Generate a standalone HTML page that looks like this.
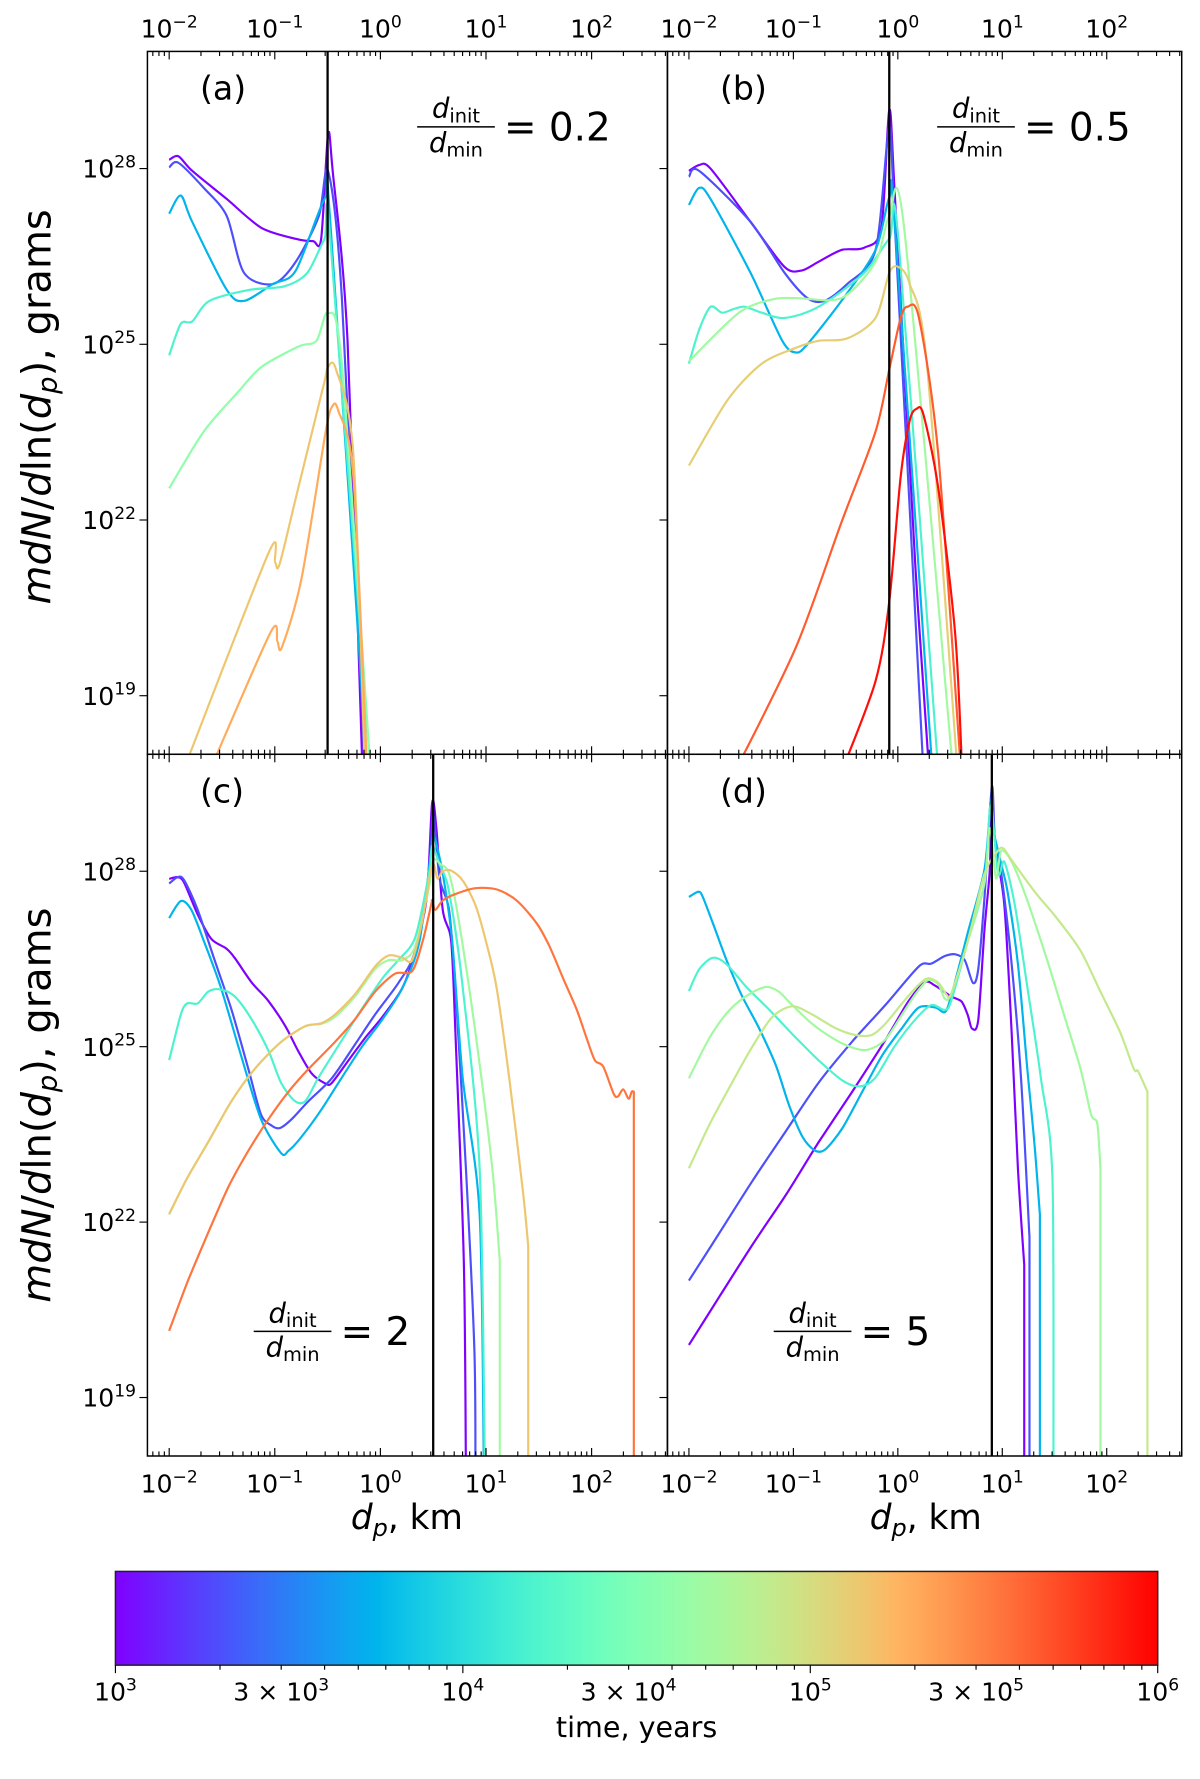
<!DOCTYPE html>
<html><head><meta charset="utf-8">
<style>
html,body{margin:0;padding:0;background:#fff;}
svg{display:block;font-family:"DejaVu Sans","Liberation Sans",sans-serif;}
</style></head>
<body>
<svg id="fig" xmlns="http://www.w3.org/2000/svg" width="1200" height="1779" viewBox="0 0 1050 1556.625">
<rect x="0" y="0" width="1050" height="1556.625" fill="#fff"/>
<g id="layer"></g>
</svg>
<script>
// ---- data (log10 d in km, log10 mdN/dln d in grams), times in log10 years ----
const panelATimes = [3.0, 3.3, 3.75, 4.2, 4.6, 5.15, 5.3];
const panelA_s1 = [[-2,28.15],[-1.913,28.21],[-1.782,27.96],[-1.455,27.48],[-1.128,26.99],[-0.801,26.80],[-0.638,26.76],[-0.561,26.80],[-0.496,28.58],[-0.452,27.96],[-0.311,25.06],[-0.169,17.7]];
const panelA_s2 = [[-2,28.02],[-1.913,28.10],[-1.673,27.67],[-1.455,27.19],[-1.292,26.22],[-1.019,26.03],[-0.801,26.41],[-0.583,27.19],[-0.496,27.96],[-0.365,25.8],[-0.147,17.7]];
const panelA_s3 = [[-2,27.23],[-1.89,27.54],[-1.782,27.09],[-1.455,25.93],[-1.292,25.74],[-1.019,26.03],[-0.801,26.26],[-0.529,27.48],[-0.474,27.09],[-0.125,17.7]];
const panelA_s4 = [[-2,24.81],[-1.89,25.35],[-1.782,25.39],[-1.619,25.74],[-1.237,25.93],[-0.910,25.99],[-0.692,26.22],[-0.529,26.80],[-0.474,26.80],[-0.093,17.7]];
const panelA_s5 = [[-2,22.54],[-1.673,23.51],[-1.346,24.19],[-1.128,24.61],[-0.779,24.96],[-0.605,25.06],[-0.496,25.54],[-0.365,24.67],[-0.093,17.7]];
const panelA_s6 = [[-1.87,17.7],[-1.063,21.42],[-0.997,21.28],[-0.954,21.25],[-0.779,22.54],[-0.540,24.28],[-0.496,24.61],[-0.420,24.57],[-0.256,23.12],[-0.147,17.7]];
const panelA_s7 = [[-1.62,17.7],[-1.041,20.08],[-0.976,19.93],[-0.932,19.83],[-0.747,21.0],[-0.518,23.51],[-0.452,23.95],[-0.398,23.86],[-0.256,22.74],[-0.125,17.7]];

const panelBTimes = [3.0, 3.3, 3.75, 4.2, 4.7, 5.1, 5.65, 5.95];
const panelB_s1 = [[-2,27.96],[-1.902,28.06],[-1.793,28.0],[-1.411,27.09],[-1.084,26.32],[-0.921,26.26],[-0.758,26.41],[-0.540,26.61],[-0.322,26.65],[-0.158,26.99],[-0.082,29.0],[-0.027,27.5],[0.169,21.19],[0.300,17.7]];
const panelB_s2 = [[-2,27.86],[-1.902,27.96],[-1.411,27.09],[-1.084,26.22],[-0.867,25.79],[-0.703,25.74],[-0.485,26.03],[-0.213,26.61],[-0.082,28.7],[-0.027,27.0],[0.245,17.7]];
const panelB_s3 = [[-2,27.38],[-1.902,27.67],[-1.793,27.48],[-1.411,26.22],[-1.106,25.06],[-0.975,24.86],[-0.867,25.0],[-0.540,25.74],[-0.213,26.61],[-0.082,27.5],[-0.027,27.0],[0.332,17.7]];
const panelB_s4 = [[-2,24.67],[-1.902,25.25],[-1.793,25.64],[-1.684,25.54],[-1.575,25.60],[-1.466,25.64],[-1.302,25.54],[-1.084,25.45],[-0.758,25.64],[-0.322,26.22],[-0.082,26.8],[0.005,26.8],[0.387,17.7]];
const panelB_s5 = [[-2,24.71],[-1.520,25.54],[-1.193,25.77],[-0.975,25.79],[-0.540,25.79],[-0.213,26.41],[-0.082,27.19],[0.060,26.99],[0.529,17.7]];
const panelB_s6 = [[-2,22.93],[-1.629,24.05],[-1.302,24.67],[-0.975,24.94],[-0.758,25.06],[-0.485,25.10],[-0.213,25.45],[-0.082,26.22],[0.005,26.32],[0.114,26.03],[0.278,24.67],[0.572,17.7]];
const panelB_s7 = [[-1.56,17.7],[-0.975,19.83],[-0.540,21.96],[-0.213,23.51],[-0.082,24.57],[0.027,25.45],[0.093,25.64],[0.202,25.45],[0.387,23.12],[0.605,17.7]];
const panelB_s8 = [[-0.54,17.7],[-0.213,19.25],[-0.082,20.61],[0.027,22.74],[0.114,23.70],[0.180,23.90],[0.245,23.80],[0.387,22.54],[0.550,20.03],[0.616,17.7]];

const panelCTimes = [3.0, 3.3, 3.75, 4.2, 4.7, 5.15, 5.55];
const panelC_s1 = [[-2,27.87],[-1.92,27.90],[-1.86,27.81],[-1.73,27.26],[-1.60,26.84],[-1.46,26.68],[-1.38,26.52],[-1.22,26.10],[-1.06,25.78],[-0.90,25.35],[-0.78,24.93],[-0.65,24.54],[-0.52,24.37],[-0.46,24.38],[-0.30,24.77],[-0.14,25.16],[0.02,25.51],[0.21,26.01],[0.33,26.64],[0.44,27.57],[0.49,29.17],[0.53,28.74],[0.59,27.34],[0.67,26.80],[0.71,25.24],[0.79,21.35],[0.81,17.7]];
const panelC_s2 = [[-2,27.79],[-1.92,27.90],[-1.86,27.85],[-1.73,27.34],[-1.57,26.48],[-1.41,25.63],[-1.25,24.62],[-1.13,23.84],[-1.03,23.65],[-0.95,23.61],[-0.84,23.76],[-0.68,24.07],[-0.46,24.46],[-0.24,25.04],[-0.05,25.55],[0.17,26.09],[0.33,26.64],[0.46,27.96],[0.50,28.97],[0.56,27.88],[0.65,27.34],[0.71,26.01],[0.81,22.91],[0.89,19.80],[0.90,17.7]];
const panelC_s3 = [[-2,27.20],[-1.89,27.49],[-1.79,27.34],[-1.67,26.80],[-1.51,26.01],[-1.32,24.85],[-1.13,23.76],[-0.94,23.18],[-0.87,23.22],[-0.75,23.45],[-0.56,23.92],[-0.37,24.46],[-0.17,25.01],[0.02,25.47],[0.21,26.01],[0.37,26.80],[0.48,28.35],[0.51,28.58],[0.59,27.96],[0.68,26.80],[0.78,24.46],[0.94,22.13],[0.98,17.7]];
const panelC_s4 = [[-2,24.77],[-1.89,25.55],[-1.83,25.74],[-1.73,25.74],[-1.63,25.94],[-1.52,25.98],[-1.38,25.86],[-1.22,25.47],[-1.06,24.93],[-0.94,24.38],[-0.81,24.07],[-0.71,24.07],[-0.59,24.46],[-0.40,25.01],[-0.21,25.55],[0.02,26.17],[0.17,26.48],[0.33,26.87],[0.46,27.96],[0.49,28.43],[0.56,28.12],[0.65,27.65],[0.78,26.01],[0.94,22.91],[0.99,17.7]];
const panelC_s5 = [[-2,22.13],[-1.83,22.75],[-1.63,23.37],[-1.41,24.07],[-1.19,24.62],[-0.94,25.08],[-0.71,25.35],[-0.56,25.39],[-0.43,25.51],[-0.24,25.86],[-0.05,26.33],[0.08,26.48],[0.21,26.48],[0.33,26.72],[0.46,27.73],[0.50,28.19],[0.57,28.12],[0.65,27.96],[0.74,27.18],[0.90,25.24],[1.06,22.91],[1.13,21.35],[1.13,17.7]];
const panelC_s6 = [[-2,22.14],[-1.83,22.75],[-1.63,23.37],[-1.41,24.07],[-1.19,24.62],[-0.94,25.08],[-0.71,25.35],[-0.56,25.40],[-0.43,25.55],[-0.24,25.90],[-0.05,26.37],[0.08,26.56],[0.21,26.52],[0.30,26.48],[0.40,27.18],[0.49,28.12],[0.54,27.88],[0.59,28.0],[0.67,28.01],[0.78,27.84],[0.90,27.42],[1.0,26.80],[1.10,26.01],[1.22,24.46],[1.35,22.52],[1.40,21.58],[1.40,17.7]];
const panelC_s7 = [[-2,20.14],[-1.83,20.96],[-1.63,21.82],[-1.44,22.60],[-1.25,23.22],[-1.06,23.76],[-0.87,24.23],[-0.68,24.62],[-0.43,25.08],[-0.24,25.47],[-0.05,25.94],[0.14,26.25],[0.30,26.29],[0.40,26.80],[0.48,27.42],[0.49,27.50],[0.52,27.34],[0.59,27.50],[0.71,27.61],[0.90,27.71],[1.10,27.69],[1.29,27.50],[1.48,27.11],[1.60,26.72],[1.73,26.17],[1.86,25.63],[1.95,25.16],[2.03,24.77],[2.11,24.66],[2.21,24.19],[2.25,24.15],[2.30,24.27],[2.35,24.11],[2.38,24.23],[2.40,24.23],[2.40,17.7]];

const panelDTimes = [3.0, 3.3, 3.75, 4.2, 4.7, 4.9];
const panelD_s1 = [[-2,19.90],[-1.71,20.72],[-1.39,21.62],[-1.07,22.47],[-0.76,23.36],[-0.44,24.22],[-0.12,25.11],[0.10,25.77],[0.26,26.10],[0.36,26.04],[0.51,25.86],[0.61,25.77],[0.67,25.54],[0.71,25.31],[0.77,25.46],[0.83,27.02],[0.88,28.0],[0.90,29.13],[0.94,28.35],[1.02,27.42],[1.09,25.24],[1.15,22.91],[1.21,21.27],[1.21,17.7]];
const panelD_s2 = [[-2,21.0],[-1.71,21.81],[-1.39,22.71],[-1.07,23.56],[-0.76,24.38],[-0.44,25.08],[-0.12,25.71],[0.20,26.37],[0.32,26.42],[0.45,26.55],[0.55,26.58],[0.64,26.48],[0.72,26.09],[0.77,26.33],[0.83,27.57],[0.90,29.44],[0.93,28.51],[0.99,27.96],[1.09,26.41],[1.18,24.46],[1.26,21.74],[1.26,17.7]];
const panelD_s3 = [[-2,27.56],[-1.91,27.65],[-1.87,27.57],[-1.77,27.11],[-1.64,26.48],[-1.49,25.86],[-1.33,25.32],[-1.17,24.69],[-1.04,23.99],[-0.91,23.45],[-0.79,23.22],[-0.69,23.25],[-0.53,23.61],[-0.34,24.23],[-0.15,24.85],[0.04,25.32],[0.20,25.67],[0.36,25.67],[0.45,25.59],[0.51,25.86],[0.67,26.95],[0.83,28.04],[0.89,29.21],[0.91,28.74],[0.99,28.12],[1.05,27.65],[1.15,26.41],[1.24,24.62],[1.31,23.30],[1.36,22.13],[1.36,17.7]];
const panelD_s4 = [[-2,25.95],[-1.90,26.33],[-1.77,26.52],[-1.64,26.41],[-1.45,26.02],[-1.23,25.63],[-0.98,25.16],[-0.76,24.77],[-0.53,24.42],[-0.37,24.32],[-0.22,24.46],[-0.03,25.01],[0.17,25.47],[0.32,25.71],[0.45,25.63],[0.51,25.78],[0.67,26.80],[0.83,27.81],[0.89,29.13],[0.96,27.96],[1.02,28.16],[1.12,27.42],[1.24,26.02],[1.37,24.46],[1.48,22.75],[1.49,17.7]];
const panelD_s5 = [[-2,24.46],[-1.80,25.16],[-1.61,25.63],[-1.42,25.90],[-1.26,26.02],[-1.14,25.94],[-1.01,25.71],[-0.82,25.39],[-0.60,25.12],[-0.41,24.97],[-0.28,24.95],[-0.12,25.12],[0.04,25.55],[0.17,25.90],[0.29,26.14],[0.39,26.06],[0.45,25.82],[0.51,25.90],[0.67,26.80],[0.83,27.81],[0.88,28.74],[0.94,27.88],[0.99,28.35],[1.09,28.16],[1.24,27.50],[1.43,26.48],[1.59,25.55],[1.75,24.62],[1.85,23.84],[1.91,23.68],[1.94,22.91],[1.94,17.7]];
const panelD_s6 = [[-2,22.92],[-1.80,23.68],[-1.61,24.31],[-1.39,25.01],[-1.20,25.51],[-1.01,25.69],[-0.82,25.55],[-0.60,25.32],[-0.41,25.20],[-0.25,25.20],[-0.12,25.39],[0.04,25.74],[0.20,26.06],[0.29,26.17],[0.39,26.09],[0.47,25.88],[0.51,25.90],[0.67,26.80],[0.83,27.96],[0.96,28.35],[1.01,28.39],[1.09,28.19],[1.31,27.65],[1.53,27.18],[1.75,26.64],[1.94,25.94],[2.13,25.24],[2.26,24.62],[2.30,24.58],[2.39,24.23],[2.39,17.7]];

const initLines = [-0.50, -0.082, 0.50, 0.90];
const ratioLabels = ["0.2", "0.5", "2", "5"];
const panelLetters = ["(a)", "(b)", "(c)", "(d)"];
const xTickExps = [-2, -1, 0, 1, 2];
const yTickExps = [19, 22, 25, 28];
const cbTickVals = [3, 3.4771, 4, 4.4771, 5, 5.4771, 6];
const cbTickMant = ["", "3", "", "3", "", "3", ""];
const cbTickExp = ["3", "3", "4", "4", "5", "5", "6"];

// ---- layout ----
const XMIN = -2.206, XMAX = 2.718, YMIN = 18.0, YMAX = 30.0;
const panels = [
  {id:'a', x0:129, y0:45, w:455, h:615, times:panelATimes, series:[panelA_s1,panelA_s2,panelA_s3,panelA_s4,panelA_s5,panelA_s6,panelA_s7]},
  {id:'b', x0:584, y0:45, w:450, h:615, times:panelBTimes, series:[panelB_s1,panelB_s2,panelB_s3,panelB_s4,panelB_s5,panelB_s6,panelB_s7,panelB_s8]},
  {id:'c', x0:129, y0:660, w:455, h:614, times:panelCTimes, series:[panelC_s1,panelC_s2,panelC_s3,panelC_s4,panelC_s5,panelC_s6,panelC_s7]},
  {id:'d', x0:584, y0:660, w:450, h:614, times:panelDTimes, series:[panelD_s1,panelD_s2,panelD_s3,panelD_s4,panelD_s5,panelD_s6]}
];
const NS = 'http://www.w3.org/2000/svg';
const layer = document.getElementById('layer');
const svg = document.getElementById('fig');
function mk(tag, attrs, parent){ const e=document.createElementNS(NS,tag); for(const k in attrs) e.setAttribute(k,attrs[k]); (parent||layer).appendChild(e); return e; }
function X(p, lx){ return p.x0 + (lx-XMIN)/(XMAX-XMIN)*p.w; }
function Y(p, ly){ return p.y0 + (YMAX-ly)/(YMAX-YMIN)*p.h; }
function rainbow(x){ x=Math.max(0,Math.min(1,x));
  const r=Math.min(1,Math.abs(2*x-0.5)), g=Math.sin(Math.PI*x), b=Math.cos(Math.PI*x/2);
  const h=v=>Math.round(Math.max(0,Math.min(1,v))*255).toString(16).padStart(2,'0');
  return '#'+h(r)+h(g)+h(b); }
function tcol(t){ return rainbow((t-3)/3); }
function smoothPath(pts){
  const k = 1/7;
  let d = 'M'+pts[0][0].toFixed(1)+' '+pts[0][1].toFixed(1);
  for(let i=0;i<pts.length-1;i++){
    const p1=pts[i], p2=pts[i+1];
    if(Math.abs(p2[0]-p1[0])<0.5){ d += ' L'+p2[0].toFixed(1)+' '+p2[1].toFixed(1); continue; }
    let p0=pts[Math.max(0,i-1)], p3=pts[Math.min(pts.length-1,i+2)];
    if(Math.abs(p3[0]-p2[0])<0.5) p3=p2;
    if(i>0 && Math.abs(p1[0]-p0[0])<0.5) p0=p1;
    const c1=[p1[0]+(p2[0]-p0[0])*k, p1[1]+(p2[1]-p0[1])*k];
    const c2=[p2[0]-(p3[0]-p1[0])*k, p2[1]-(p3[1]-p1[1])*k];
    d += ' C'+c1[0].toFixed(1)+' '+c1[1].toFixed(1)+' '+c2[0].toFixed(1)+' '+c2[1].toFixed(1)+' '+p2[0].toFixed(1)+' '+p2[1].toFixed(1);
  }
  return d;
}

const defs = mk('defs',{},svg);
panels.forEach((p,pi)=>{
  const cp = mk('clipPath',{id:'clip-'+p.id},defs);
  mk('rect',{x:p.x0,y:p.y0,width:p.w,height:p.h},cp);
  const g = mk('g',{'clip-path':'url(#clip-'+p.id+')'});
  
  
  p.series.forEach((s,si)=>{
    const pts = s.map(pt=>[X(p,pt[0]), Y(p,pt[1])]);
    const path = mk('path',{d:smoothPath(pts),fill:'none',stroke:tcol(p.times[si]),'stroke-width':1.9,'stroke-linejoin':'round'},g);
    
    
  });
  const vl = mk('line',{x1:X(p,initLines[pi]),x2:X(p,initLines[pi]),y1:p.y0,y2:p.y0+p.h,stroke:'#000','stroke-width':2},g);
  
  
  const fr = mk('rect',{x:p.x0,y:p.y0,width:p.w,height:p.h,fill:'none',stroke:'#000','stroke-width':1.3});
  
  
  for(let e=-3;e<=2;e++){
    for(let m=1;m<=9;m++){
      const lx = e+Math.log10(m);
      if(lx<XMIN||lx>XMAX) continue;
      const L = m===1?7:4, xx=X(p,lx);
      mk('line',{x1:xx,x2:xx,y1:p.y0,y2:p.y0+L,stroke:'#000','stroke-width':1});
      mk('line',{x1:xx,x2:xx,y1:p.y0+p.h,y2:p.y0+p.h-L,stroke:'#000','stroke-width':1});
    }
  }
  yTickExps.forEach(e=>{ const yy=Y(p,e); mk('line',{x1:p.x0-7,x2:p.x0,y1:yy,y2:yy,stroke:'#000','stroke-width':1}); });
  const top = pi<2;
  xTickExps.forEach(e=>{
    const t = mk('text',{x:X(p,e),y: top? 33 : p.y0+p.h+32,'text-anchor':'middle','font-size':22,fill:'#000'});
    
    
    t.innerHTML = '10<tspan dy="-9" font-size="15">'+(e<0?'\u2212'+(-e):e)+'</tspan>';
  });
  if(pi%2===0){
    yTickExps.forEach(e=>{
      const t = mk('text',{x:p.x0-10,y:Y(p,e)+8,'text-anchor':'end','font-size':22,fill:'#000'});
      
      
      t.innerHTML = '10<tspan dy="-9" font-size="15">'+e+'</tspan>';
    });
  }
  const lt = mk('text',{x:p.x0+46,y:p.y0+42,'font-size':29,fill:'#000'});
  lt.textContent = panelLetters[pi];
  
  
  const fx = pi<2 ? p.x0+236 : p.x0+93, fy = pi<2 ? p.y0+66 : p.y0+505;
  const ann = mk('g',{});
  
  
  const nu = mk('text',{x:fx+34,y:fy-8,'text-anchor':'middle','font-size':24},ann);
  nu.innerHTML='<tspan font-style="italic">d</tspan><tspan font-size="17" dy="4">init</tspan>';
  mk('line',{x1:fx,x2:fx+68,y1:fy,y2:fy,stroke:'#000','stroke-width':1.3},ann);
  const de = mk('text',{x:fx+34,y:fy+22,'text-anchor':'middle','font-size':24},ann);
  de.innerHTML='<tspan font-style="italic">d</tspan><tspan font-size="17" dy="4">min</tspan>';
  const eq = mk('text',{x:fx+76,y:fy+12,'font-size':34},ann);
  eq.textContent = '= '+ratioLabels[pi];
});

[356, 967].forEach((cy,i)=>{
  const t = mk('text',{x:0,y:0,transform:'translate(44,'+cy+') rotate(-90)','text-anchor':'middle','font-size':35,fill:'#000'});
  
  
  t.innerHTML='<tspan font-style="italic">mdN</tspan>/<tspan font-style="italic">d</tspan>ln(<tspan font-style="italic">d</tspan><tspan font-style="italic" font-size="24" dy="6">p</tspan><tspan dy="-6">), grams</tspan>';
});
[356, 810].forEach((cx,i)=>{
  const t = mk('text',{x:cx,y:1338,'text-anchor':'middle','font-size':30,fill:'#000'});
  
  
  t.innerHTML='<tspan font-style="italic">d</tspan><tspan font-style="italic" font-size="21" dy="6">p</tspan><tspan dy="-6">, km</tspan>';
});

const cb = {x0:101, y0:1375, w:912, h:82};
const grad = mk('linearGradient',{id:'cbgrad',x1:0,x2:1,y1:0,y2:0},defs);
for(let i=0;i<=40;i++){ mk('stop',{offset:(i/40),'stop-color':rainbow(i/40)},grad); }
const cbr = mk('rect',{x:cb.x0,y:cb.y0,width:cb.w,height:cb.h,fill:'url(#cbgrad)',stroke:'#222','stroke-width':1.3});


function CX(lt){ return cb.x0 + (lt-3)/3*cb.w; }
for(let e=3;e<6;e++){ for(let m=1;m<=9;m++){ const lt=e+Math.log10(m); const xx=CX(lt);
  mk('line',{x1:xx,x2:xx,y1:cb.y0+cb.h,y2:cb.y0+cb.h+(m===1?7:4),stroke:'#000','stroke-width':1}); } }
mk('line',{x1:CX(6),x2:CX(6),y1:cb.y0+cb.h,y2:cb.y0+cb.h+7,stroke:'#000','stroke-width':1});
cbTickVals.forEach((v,i)=>{
  const t = mk('text',{x:CX(v),y:1488,'text-anchor':'middle','font-size':22,fill:'#000'});
  
  
  t.innerHTML = (cbTickMant[i]? cbTickMant[i]+' \u00d7 ':'')+'10<tspan dy="-9" font-size="15">'+cbTickExp[i]+'</tspan>';
});
const ct = mk('text',{x:557,y:1520,'text-anchor':'middle','font-size':25,fill:'#000'});
ct.textContent='time, years';


</script>
</body></html>
